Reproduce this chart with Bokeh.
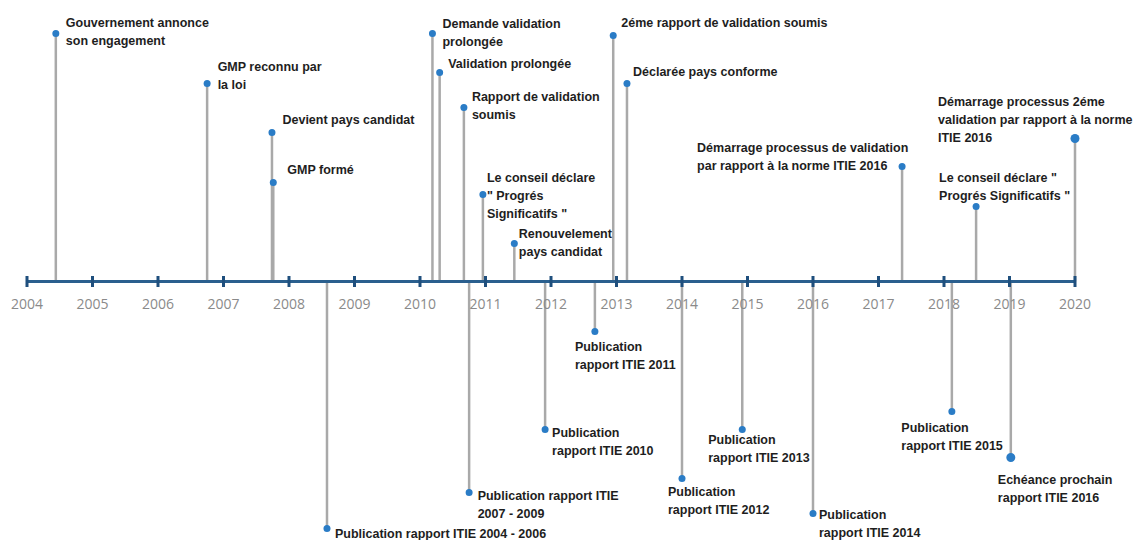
from bokeh.plotting import figure
from bokeh.models import ColumnDataSource, Range1d
from bokeh.core.properties import value
from bokeh.embed import file_html
from bokeh.resources import INLINE

# ---------------- data ----------------
years = list(range(2004, 2021))
year_labels = [str(y) for y in years]

above_labels = [
    "Gouvernement annonce\nson engagement",
    "GMP reconnu par\nla loi",
    "Devient pays candidat",
    "GMP formé",
    "Demande validation\nprolongée",
    "Validation prolongée",
    "Rapport de validation\nsoumis",
    "Le conseil déclare\n\" Progrés\nSignificatifs \"",
    "Renouvelement\npays candidat",
    "2éme rapport de validation soumis",
    "Déclarée pays conforme",
    "Démarrage processus de validation\npar rapport à la norme ITIE 2016",
    "Le conseil déclare \"\nProgrés Significatifs \"",
    "Démarrage processus 2éme\nvalidation par rapport à la norme\nITIE 2016",
]
above_dates = [2004.44, 2006.75, 2007.74, 2007.76, 2010.19, 2010.30, 2010.67,
               2010.96, 2011.44, 2012.95, 2013.16, 2017.36, 2018.49, 2020.0]
above_heights = [248, 198, 149, 99, 248, 209, 174, 87, 38, 246, 198, 115, 75, 143]

below_labels = [
    "Publication rapport ITIE 2004 - 2006",
    "Publication rapport ITIE\n2007 - 2009",
    "Publication\nrapport ITIE 2010",
    "Publication\nrapport ITIE 2011",
    "Publication\nrapport ITIE 2012",
    "Publication\nrapport ITIE 2013",
    "Publication\nrapport ITIE 2014",
    "Publication\nrapport ITIE 2015",
    "Echéance prochain\nrapport ITIE 2016",
]
below_dates = [2008.58, 2010.75, 2011.91, 2012.67, 2014.0, 2014.92, 2016.0, 2018.12, 2019.02]
below_heights = [-247, -211, -148, -50, -197, -148, -232, -130, -176]

# ---------------- layout (screen px offsets of labels, dot sizes) ----------------
above_dx = [10, 10.5, 10.5, 14, 10, 8.5, 8, 4, 4.5, 8, 6, -205, -37, -137]
above_dy = [-18, -24, -20, -20, -17, -16, -18, -24, -17, -20, -19, -26, -36, -44]
above_size = [7, 7, 7, 7, 7, 7, 7, 7, 7, 7, 7, 7, 7, 9]

below_dx = [8, 8.5, 7, -20, -14, -34, 6, -50.5, -13]
below_dy = [-2, -4, -4, 8, 6, 3, -6, 9, 15]
below_size = [7, 7, 7, 7, 7, 7, 7, 7, 9]

W, H = 1135, 540
px_per_year = 65.5
x0 = 2004 - 26.5 / px_per_year
axis_px = 281  # vertical pixel position of the timeline

p = figure(width=W, height=H, output_backend="svg", toolbar_location=None,
           x_range=Range1d(x0, x0 + W / px_per_year),
           y_range=Range1d(axis_px - H, axis_px),
           x_axis_location=None, y_axis_location=None, min_border=0,
           background_fill_color="white", border_fill_color="white")
p.outline_line_color = None
p.grid.visible = False

ev = ColumnDataSource(dict(
    x=above_dates + below_dates,
    h=above_heights + below_heights,
    zero=[0] * (len(above_dates) + len(below_dates)),
    label=above_labels + below_labels,
    dx=above_dx + below_dx,
    dy=above_dy + below_dy,
    size=above_size + below_size,
))

# stems
p.segment(x0="x", y0="zero", x1="x", y1="h", source=ev,
          line_color="#a9a9a9", line_width=2.5)

# timeline axis
p.segment(x0=[years[0]], y0=[0], x1=[years[-1]], y1=[0],
          line_color="#2a5f8e", line_width=3)
p.rect(x=years, y=[0] * len(years), width=3, height=11,
       width_units="screen", height_units="screen",
       fill_color="#1f4f7d", line_color=None)
p.text(x=years, y=[0] * len(years), text=year_labels, y_offset=22,
       text_align="center", text_baseline="middle",
       text_font=value("Open Sans"), text_font_size="14px", text_color="#8a8a8a")

# dots
p.scatter(x="x", y="h", size="size", source=ev,
          fill_color="#2a7cc6", line_color=None)

# labels
p.text(x="x", y="h", text="label", x_offset="dx", y_offset="dy", source=ev,
       text_align="left", text_baseline="top",
       text_font=value("Liberation Sans"), text_font_style="bold",
       text_font_size="12.5px", text_line_height=1.3, text_color="#1e1e1e")

open("out.html", "w").write(file_html(p, INLINE))
